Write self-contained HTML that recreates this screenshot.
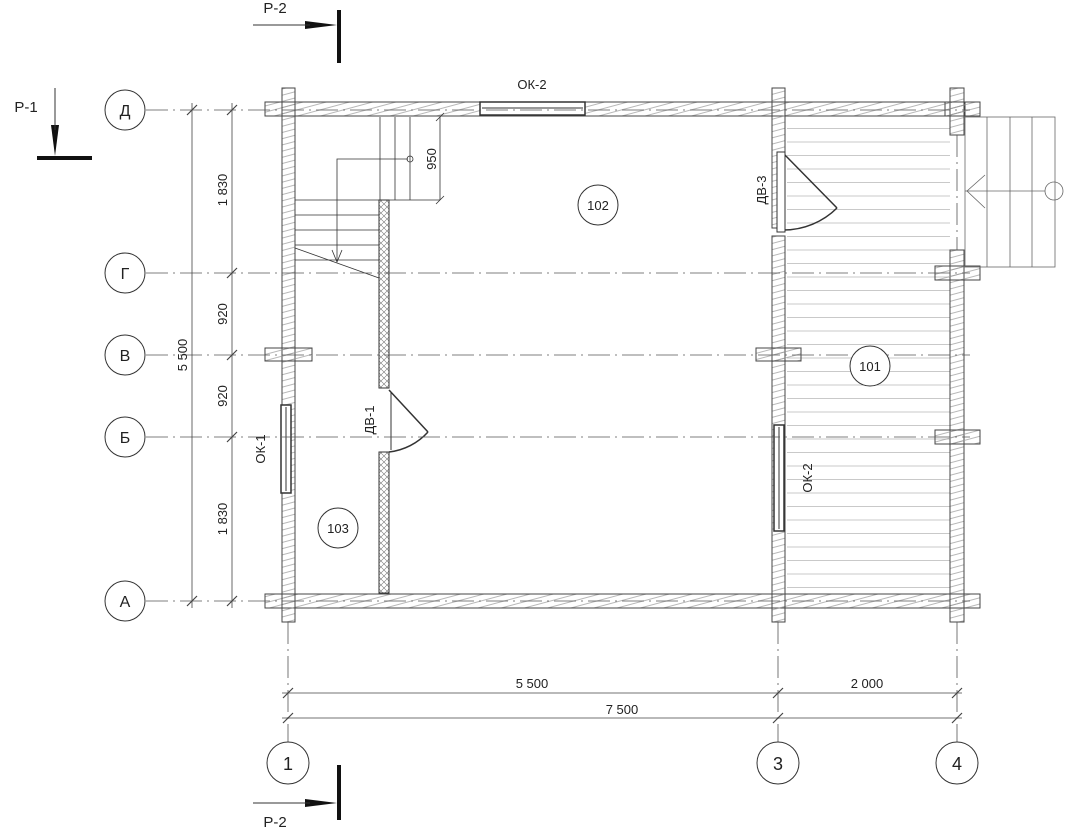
<!DOCTYPE html>
<html><head><meta charset="utf-8"><style>
html,body{margin:0;padding:0;background:#fff;width:1075px;height:838px;overflow:hidden}
svg{display:block}
text{font-family:"Liberation Sans","DejaVu Sans",sans-serif;fill:#222}
</style></head><body>
<svg width="1075" height="838" viewBox="0 0 1075 838" xmlns="http://www.w3.org/2000/svg">
<defs>
<pattern id="hl" width="10" height="13.5" patternUnits="userSpaceOnUse"><line x1="0" y1="7" x2="10" y2="7" stroke="#bbb" stroke-width="0.8"/></pattern>
<pattern id="wh" width="6" height="6" patternUnits="userSpaceOnUse" patternTransform="rotate(-15)"><line x1="0" y1="3" x2="6" y2="3" stroke="#999" stroke-width="0.7"/></pattern>
<pattern id="xh" width="6" height="6" patternUnits="userSpaceOnUse"><path d="M0 0L6 6M6 0L0 6" stroke="#777" stroke-width="0.6"/></pattern>
</defs>
<g stroke="#333" fill="none" stroke-width="1">
<!-- porch hatch -->
<rect x="787" y="118" width="163" height="475" fill="url(#hl)" stroke="none"/>
<!-- walls -->
<g fill="url(#wh)" stroke="#444">
<rect x="265" y="102" width="700" height="14"/>
<rect x="265" y="594" width="715" height="14"/>
<rect x="282" y="88" width="13" height="534"/>
<rect x="772" y="88" width="13" height="140"/>
<rect x="772" y="236" width="13" height="386"/>
<rect x="950" y="88" width="14" height="47"/>
<rect x="950" y="250" width="14" height="372"/>
<rect x="265" y="348" width="47" height="13"/>
<rect x="756" y="348" width="45" height="13"/>
<rect x="935" y="266" width="45" height="14"/>
<rect x="935" y="430" width="45" height="14"/>
<rect x="945" y="102" width="35" height="14"/>
</g>
<!-- partition -->
<rect x="379" y="200" width="10" height="188" fill="url(#xh)"/>
<rect x="379" y="452" width="10" height="141" fill="url(#xh)"/>
<!-- door ДВ-1 -->
<path d="M389 390 L428 432 M389 452 A62 62 0 0 0 428 432" stroke-width="1.5"/>
<line x1="391" y1="392" x2="391" y2="450"/>
<!-- door ДВ-3 -->
<path d="M784 154 L837 208 M784 230 A76 76 0 0 0 837 208" stroke-width="1.5"/>
<rect x="777" y="152" width="8" height="80" fill="#fff"/>
<!-- windows -->
<rect x="480" y="102" width="105" height="13" fill="#fff" stroke-width="1.5"/>
<line x1="482" y1="108" x2="583" y2="108"/>
<rect x="281" y="405" width="10" height="88" fill="#fff" stroke-width="1.5"/>
<line x1="286" y1="407" x2="286" y2="491"/>
<rect x="774" y="425" width="10" height="106" fill="#fff" stroke-width="1.5"/>
<line x1="779" y1="427" x2="779" y2="529"/>
<!-- stairs inside -->
<g stroke-width="0.8">
<line x1="380" y1="117" x2="380" y2="200"/><line x1="395" y1="117" x2="395" y2="200"/><line x1="410" y1="117" x2="410" y2="200"/>
<line x1="295" y1="200" x2="440" y2="200"/>
<line x1="295" y1="215" x2="379" y2="215"/><line x1="295" y1="230" x2="379" y2="230"/><line x1="295" y1="245" x2="379" y2="245"/><line x1="295" y1="260" x2="379" y2="260"/>
<line x1="295" y1="248" x2="379" y2="278"/>
<path d="M408 159 H337 V262 M332 250 L337 262 L342 250"/>
<circle cx="410" cy="159" r="3"/>
<line x1="440" y1="117" x2="440" y2="200"/>
<line x1="436" y1="121" x2="444" y2="113"/><line x1="436" y1="204" x2="444" y2="196"/>
</g>
<!-- porch stairs -->
<g stroke="#666" stroke-width="0.8">
<rect x="965" y="117" width="90" height="150"/>
<line x1="987" y1="117" x2="987" y2="267"/><line x1="1010" y1="117" x2="1010" y2="267"/><line x1="1032" y1="117" x2="1032" y2="267"/>
<line x1="965" y1="191" x2="1045" y2="191"/>
<path d="M985 175 L967 191 L985 208"/>
<circle cx="1054" cy="191" r="9"/>
</g>
<!-- axes dashed -->
<g stroke="#555" stroke-width="0.8" stroke-dasharray="22,5,2,5">
<line x1="146" y1="110" x2="970" y2="110"/>
<line x1="146" y1="273" x2="970" y2="273"/>
<line x1="146" y1="355" x2="970" y2="355"/>
<line x1="146" y1="437" x2="970" y2="437"/>
<line x1="146" y1="601" x2="970" y2="601"/>
<line x1="288" y1="622" x2="288" y2="742"/>
<line x1="778" y1="622" x2="778" y2="742"/>
<line x1="957" y1="622" x2="957" y2="742"/>
<line x1="957" y1="135" x2="957" y2="250"/>
</g>
<!-- bubbles -->
<g stroke="#333" fill="#fff">
<circle cx="125" cy="110" r="20"/><circle cx="125" cy="273" r="20"/><circle cx="125" cy="355" r="20"/><circle cx="125" cy="437" r="20"/><circle cx="125" cy="601" r="20"/>
<circle cx="288" cy="763" r="21"/><circle cx="778" cy="763" r="21"/><circle cx="957" cy="763" r="21"/>
<circle cx="598" cy="205" r="20"/><circle cx="870" cy="366" r="20"/><circle cx="338" cy="528" r="20"/>
</g>
<!-- dimension lines -->
<g stroke="#444" stroke-width="0.8">
<line x1="192" y1="103" x2="192" y2="608"/><line x1="232" y1="103" x2="232" y2="608"/>
<line x1="282" y1="693" x2="962" y2="693"/><line x1="282" y1="718" x2="962" y2="718"/>
<g stroke-width="1.2">
<path d="M187 115l10-10M187 606l10-10M227 115l10-10M227 278l10-10M227 360l10-10M227 442l10-10M227 606l10-10"/>
<path d="M283 698l10-10M773 698l10-10M952 698l10-10M283 723l10-10M773 723l10-10M952 723l10-10"/>
</g>
</g>
<!-- section marks -->
<g fill="#111" stroke="none">
<rect x="37" y="156" width="55" height="4"/>
<polygon points="51,125 59,125 55,156"/>
<rect x="337" y="10" width="4" height="53"/>
<polygon points="305,21 305,29 337,25"/>
<rect x="337" y="765" width="4" height="55"/>
<polygon points="305,799 305,807 337,803"/>
</g>
<line x1="55" y1="88" x2="55" y2="130" stroke="#333"/>
<line x1="253" y1="25" x2="310" y2="25" stroke="#333"/>
<line x1="253" y1="803" x2="310" y2="803" stroke="#333"/>
</g>
<g font-size="16" text-anchor="middle">
<text x="125" y="116">Д</text><text x="125" y="279">Г</text><text x="125" y="361">В</text><text x="125" y="443">Б</text><text x="125" y="607">А</text>
<text x="288" y="770" font-size="18">1</text><text x="778" y="770" font-size="18">3</text><text x="957" y="770" font-size="18">4</text>
</g>
<g font-size="13" text-anchor="middle">
<text x="598" y="210">102</text><text x="870" y="371">101</text><text x="338" y="533">103</text>
<text x="532" y="688">5 500</text><text x="867" y="688">2 000</text><text x="622" y="714">7 500</text>
<text x="532" y="89">ОК-2</text>
<text x="275" y="13" font-size="15">Р-2</text><text x="275" y="827" font-size="15">Р-2</text>
<text x="26" y="112" font-size="15">Р-1</text>
</g>
<g font-size="13" text-anchor="middle">
<text transform="translate(187,355) rotate(-90)">5 500</text>
<text transform="translate(227,190) rotate(-90)">1 830</text>
<text transform="translate(227,314) rotate(-90)">920</text>
<text transform="translate(227,396) rotate(-90)">920</text>
<text transform="translate(227,519) rotate(-90)">1 830</text>
<text transform="translate(436,159) rotate(-90)">950</text>
<text transform="translate(265,449) rotate(-90)">ОК-1</text>
<text transform="translate(374,420) rotate(-90)">ДВ-1</text>
<text transform="translate(766,190) rotate(-90)">ДВ-3</text>
<text transform="translate(812,478) rotate(-90)">ОК-2</text>
</g>
</svg>
</body></html>
